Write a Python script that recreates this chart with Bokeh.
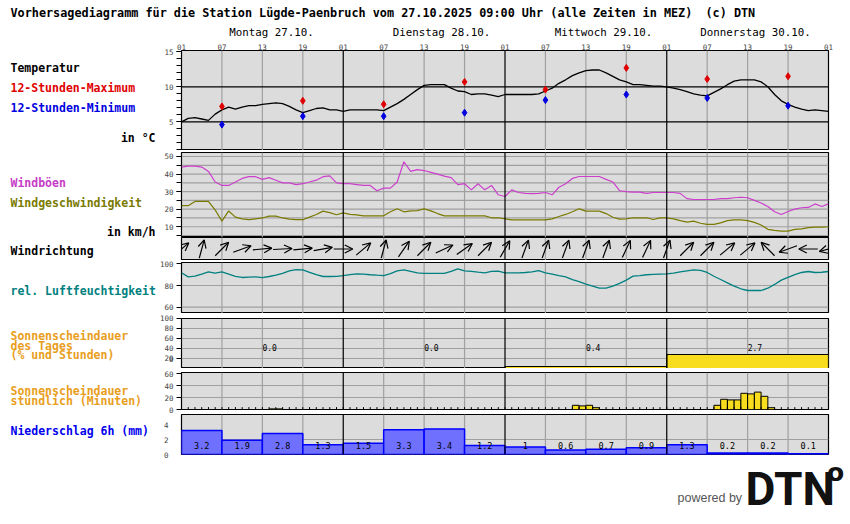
import math
from bokeh.plotting import figure
from bokeh.layouts import column, row
from bokeh.models import FixedTicker, Span, ColumnDataSource, Arrow, OpenHead, Range1d
from bokeh.embed import file_html
from bokeh.resources import INLINE
from bokeh.core.properties import value

# ---------------- data (hours counted from Mon 27.10. 01:00) ----------------
hours = list(range(97))
temperature = [5.0, 5.5, 5.6, 5.4, 5.2, 6.1, 6.7, 7.1, 6.8, 7.1, 7.3, 7.3, 7.5, 7.6, 7.7, 7.6, 7.2, 6.7, 6.3, 6.6, 6.9, 7.0, 6.7, 6.7,
               6.5, 6.7, 6.7, 6.7, 6.7, 6.7, 6.6, 7.1, 7.6, 8.2, 8.9, 9.6, 10.2, 10.3, 10.3, 10.3, 9.8, 9.4, 9.3, 8.9, 9.0, 9.0, 8.8, 8.6,
               8.9, 8.9, 8.9, 8.9, 8.9, 9.0, 9.4, 9.8, 10.5, 11.0, 11.6, 12.0, 12.3, 12.4, 12.4, 12.0, 11.5, 11.0, 10.7, 10.3, 10.3, 10.2, 10.1, 10.1,
               10.0, 9.8, 9.6, 9.3, 9.0, 8.8, 8.7, 9.2, 9.7, 10.3, 10.8, 11.0, 11.0, 11.0, 10.7, 10.0, 8.9, 8.0, 7.5, 7.1, 6.8, 6.6, 6.7, 6.6, 6.5]
extreme_hours = [6, 18, 30, 42, 54, 66, 78, 90]
temp_max = [7.2, 8.0, 7.5, 10.7, 9.6, 12.7, 11.1, 11.5]
temp_min = [4.6, 5.8, 5.8, 6.3, 8.1, 8.9, 8.4, 7.3]

gusts = [44, 44.5, 44.5, 44, 41.5, 35.5, 33.5, 33.5, 35.5, 37.5, 38.5, 38.5, 37, 38, 36.5, 35, 35, 34, 34.5, 35.5, 36.5, 38.5, 39, 35,
         34.5, 34.5, 34, 33.5, 33.5, 30.5, 32, 32, 35.5, 47, 41.5, 42.5, 42, 41, 40, 38.8, 38, 34, 34.5, 31, 34.5, 31, 33.5, 28.2,
         27.2, 31, 29.5, 29, 28.8, 29, 29.5, 28.2, 32.5, 34.5, 37.5, 38.6, 38.6, 38.6, 38.6, 37, 35.5, 30.5, 30, 29.7, 29.7, 29, 29.5, 29.5,
         29.5, 29.5, 29, 26, 25.5, 25.5, 25.5, 25.5, 26, 26, 26.5, 26.8, 26.5, 25, 23.5, 21.5, 18.5, 17, 18.7, 20, 20.8, 21, 23, 21.5, 23]
wind_speed = [22, 22, 24.4, 24.4, 24.4, 19.5, 13.2, 19, 15.5, 14.5, 14, 14.5, 15, 16, 16, 15, 14.3, 14, 14, 15.5, 17, 18.9, 18, 16.8,
              17.9, 17, 16.8, 16.2, 16.2, 16.2, 16.2, 18.5, 20.2, 18.5, 19, 19.2, 20.2, 19, 17.5, 16.2, 16.2, 16.2, 16.2, 16.2, 16.2, 16.2, 15.1, 15.1,
              14.5, 13.9, 13.9, 13.9, 13.9, 13.9, 13.9, 14.5, 15.8, 17, 18.5, 20.2, 18.9, 18.9, 18.9, 17.5, 15.4, 14.3, 14.5, 15.1, 15.1, 15.1, 14.1, 15,
              15, 14.5, 13.5, 12.6, 13.2, 12, 11.3, 11.3, 12.2, 13.5, 13.9, 13.9, 13.5, 12.5, 11, 8.5, 7.9, 7.5, 7.5, 8.5, 8.8, 9.5, 9.8, 9.8, 10]

dir_hours = list(range(0, 97, 3))
wind_dir = [230, 195, 225, 250, 265, 267, 265, 260, 270, 230, 195, 215, 225, 245, 235, 225, 210,
            200, 200, 200, 200, 200, 205, 205, 200, 225, 225, 230, 230, 135, 70, 90, 75]

humidity = [91.7, 88, 88.6, 90.5, 92.5, 91.5, 92.5, 90.5, 88.5, 87.4, 87.8, 88, 87.3, 88.3, 89.5, 91.2, 93.5, 94.7, 94.4, 92.2, 90, 88.3, 88.3, 88.5,
            89.2, 90, 90.8, 90.4, 89.9, 89.5, 89.2, 91, 93.5, 94.4, 93, 91.7, 91.1, 91.1, 91.1, 91.1, 93, 95.4, 93.5, 93, 92.3, 91.7, 93, 93.2,
            91.7, 91.7, 91.7, 92, 92.6, 93.8, 91.7, 90.5, 89.2, 88, 85.5, 83.5, 81.3, 79.5, 77.5, 77.5, 79.4, 82, 85, 88.6, 89.2, 89.9, 90.2, 90.5,
            90.7, 91.5, 92.5, 93.5, 94.4, 94, 92, 88.5, 85.5, 82.5, 79.5, 77, 75.4, 75.4, 75.4, 77.5, 81, 85, 87.5, 90, 92, 92.9, 92, 92.2, 92.9]

days = ["Montag 27.10.", "Dienstag 28.10.", "Mittwoch 29.10.", "Donnerstag 30.10."]
day_starts = [0, 24, 48, 72]
sun_day_hours = [0.0, 0.0, 0.4, 2.7]
sun_day_pct = [0, 0, 4, 28]

sun_hour_start = [13, 14, 58, 59, 60, 61, 79, 80, 81, 82, 83, 84, 85, 86, 87]
sun_minutes = [1, 1, 7, 6, 7, 3, 7, 17, 16, 16, 27, 26, 29, 22, 3]

precip_start = [0, 6, 12, 18, 24, 30, 36, 42, 48, 54, 60, 66, 72, 78, 84, 90]
precip = [3.2, 1.9, 2.8, 1.3, 1.5, 3.3, 3.4, 1.2, 1.0, 0.6, 0.7, 0.9, 1.3, 0.2, 0.2, 0.1]

hour_ticks = list(range(0, 97, 6))
hour_labels = ["01", "07", "13", "19"] * 4 + ["01"]

# ---------------- layout constants ----------------
TOTAL_W = 850
LEFT_W = 156              # width of the label column
PW = TOTAL_W - LEFT_W     # width of each panel figure
B_LEFT = 181 - LEFT_W     # axis room left of the frame
B_RIGHT = TOTAL_W - 828
PX_H = (PW - B_LEFT - B_RIGHT) / 96.0
MONO = "DejaVu Sans Mono"
GRID = "#a0a0a0"
RED = "#e00000"
BLUE = "#0000e0"
ORANGE = "#e89e1c"


def make_panel(top, frame_h, bottom, y0, y1, x_axis=None):
    p = figure(width=PW, height=top + frame_h + bottom, x_range=Range1d(0, 96), y_range=Range1d(y0, y1),
               toolbar_location=None, output_backend="svg", title=None, x_axis_location=x_axis,
               min_border_left=B_LEFT, min_border_right=B_RIGHT, min_border_top=top, min_border_bottom=bottom)
    p.background_fill_color = "#dcdcdc"
    p.border_fill_color = "white"
    p.outline_line_color = "black"
    p.outline_line_width = 1.2
    p.grid.visible = False
    for h in hour_ticks:
        if h % 24 != 0:
            p.add_layout(Span(location=h, dimension="height", line_color=GRID, line_width=1.2, level="underlay"))
    for h in [24, 48, 72]:
        p.add_layout(Span(location=h, dimension="height", line_color="black", line_width=1.2))
    ax = p.yaxis[0]
    ax.axis_line_color = None
    ax.major_tick_in = 0
    ax.major_tick_out = 5
    ax.minor_tick_in = 0
    ax.minor_tick_out = 5
    ax.major_tick_line_color = "black"
    ax.minor_tick_line_color = "black"
    ax.major_label_text_font = MONO
    ax.major_label_text_font_size = "7.5px"
    ax.major_label_standoff = 3
    return p


def hgrid(p, levels, color=GRID):
    for v in levels:
        p.add_layout(Span(location=v, dimension="width", line_color=color, line_width=1.2, level="underlay"))


def text_canvas(w, y_top, y_bottom):
    """A plain figure whose frame is the whole canvas, in page pixel units."""
    f = figure(width=w, height=y_bottom - y_top, x_range=Range1d(0, w), y_range=Range1d(y_bottom, y_top),
               toolbar_location=None, output_backend="svg", title=None,
               x_axis_location=None, y_axis_location=None,
               min_border_left=0, min_border_right=0, min_border_top=0, min_border_bottom=0)
    f.grid.visible = False
    f.outline_line_color = None
    f.background_fill_color = "white"
    f.border_fill_color = "white"
    return f


def put_text(f, x, y, t, color="black", size="11.5px", bold=True, align="left", font=MONO, baseline="middle"):
    f.text(x=[x], y=[y], text=[t], text_color=color, text_font=value(font), text_font_size=size,
           text_font_style="bold" if bold else "normal", text_align=align, text_baseline=baseline)


# ---------------- header ----------------
header = text_canvas(TOTAL_W, 0, 38)
put_text(header, 10, 12, "Vorhersagediagramm für die Station Lügde-Paenbruch vom 27.10.2025 09:00 Uhr (alle Zeiten in MEZ)", size="11.8px")
put_text(header, 705, 12, "(c) DTN", size="11.8px")
for name, cx in zip(days, [271, 441, 603, 755]):
    put_text(header, cx, 32, name, size="10.8px", bold=False, align="center")

# ---------------- left label column ----------------
left = text_canvas(LEFT_W, 38, 459)
put_text(left, 10, 67, "Temperatur")
put_text(left, 10, 87, "12-Stunden-Maximum", color=RED)
put_text(left, 10, 107, "12-Stunden-Minimum", color=BLUE)
put_text(left, 155, 137, "in °C", align="right")
put_text(left, 10, 182, "Windböen", color="#c63cc6")
put_text(left, 10, 202, "Windgeschwindigkeit", color="#7a7a00")
put_text(left, 155, 231, "in km/h", align="right")
put_text(left, 10, 250, "Windrichtung")
put_text(left, 10, 290, "rel. Luftfeuchtigkeit", color="#008080")
put_text(left, 10, 335, "Sonnenscheindauer", color=ORANGE)
put_text(left, 10, 345, "des Tages", color=ORANGE)
put_text(left, 10, 354, "(% und Stunden)", color=ORANGE)
put_text(left, 10, 390, "Sonnenscheindauer", color=ORANGE)
put_text(left, 10, 400, "stündlich (Minuten)", color=ORANGE)
put_text(left, 10, 430, "Niederschlag 6h (mm)", color="#0000ee")

# ---------------- temperature ----------------
pt = make_panel(12, 100, 0, 0.9, 0.9 + 100 / 7.0, x_axis="above")
pt.yaxis[0].ticker = FixedTicker(ticks=[5, 10, 15], minor_ticks=list(range(1, 16)))
xa = pt.xaxis[0]
xa.ticker = FixedTicker(ticks=hour_ticks, minor_ticks=[])
xa.major_label_overrides = {h: l for h, l in zip(hour_ticks, hour_labels)}
xa.axis_line_color = None
xa.major_tick_in = 0
xa.major_tick_out = 0
xa.minor_tick_in = 0
xa.minor_tick_out = 0
xa.major_label_text_font = MONO
xa.major_label_text_font_size = "7.5px"
xa.major_label_standoff = 1
hgrid(pt, [5, 10], "black")
pt.line(hours, temperature, line_color="black", line_width=1.3)
pt.scatter(extreme_hours, temp_max, marker="diamond", size=7, color=RED)
pt.scatter(extreme_hours, temp_min, marker="diamond", size=7, color=BLUE)

# ---------------- wind ----------------
pw = make_panel(2, 85, 0, 3.87, 3.87 + 85 / 1.756)
pw.yaxis[0].ticker = FixedTicker(ticks=[10, 20, 30, 40, 50], minor_ticks=list(range(5, 55, 5)))
hgrid(pw, list(range(5, 55, 5)))
pw.line(hours, gusts, line_color="#cc3fcc", line_width=1.2)
pw.line(hours, wind_speed, line_color="#7a7a00", line_width=1.2)

# ---------------- wind direction ----------------
pd_ = make_panel(0, 23, 0, 0, 23)
pd_.yaxis[0].visible = False
xs, ys, xe, ye = [], [], [], []
for h, d in zip(dir_hours, wind_dir):
    a = math.radians((270 - d) % 360)
    dx = 9.5 * math.cos(a) / PX_H
    dy = 9.5 * math.sin(a)
    xs.append(h - dx); xe.append(h + dx)
    ys.append(11.5 - dy); ye.append(11.5 + dy)
asrc = ColumnDataSource(dict(xs=xs, ys=ys, xe=xe, ye=ye))
pd_.add_layout(Arrow(source=asrc, x_start="xs", y_start="ys", x_end="xe", y_end="ye",
                     line_color="black", line_width=1.2,
                     end=OpenHead(size=8, line_color="black", line_width=1.2)))

# ---------------- humidity ----------------
ph = make_panel(2, 51, 0, 54.2, 54.2 + 51 / 1.085)
ph.yaxis[0].ticker = FixedTicker(ticks=[60, 80, 100], minor_ticks=[])
hgrid(ph, [60, 80])
ph.line(hours, humidity, line_color="#008080", line_width=1.3)

# ---------------- sunshine per day ----------------
ps = make_panel(5, 50, 0, 0, 100)
ps.yaxis[0].ticker = FixedTicker(ticks=[0, 20, 40, 60, 80, 100], minor_ticks=[])
ps.yaxis[0].major_label_overrides = {0: "0\n "}
ps.yaxis[0].major_label_text_line_height = 0.55
hgrid(ps, [20, 40, 60, 80])
sd = ColumnDataSource(dict(left=day_starts, right=[d + 24 for d in day_starts], top=sun_day_pct,
                           tx=[d + 12 for d in day_starts], txt=[f"{v:.1f}" for v in sun_day_hours]))
ps.quad(left="left", right="right", bottom=0, top="top", source=sd, fill_color="#f8dc1e", line_color="black", line_width=1.2)
ps.text(x="tx", y=42, text="txt", source=sd, text_font=value(MONO), text_font_size="8px",
        text_align="left", text_baseline="middle", text_color="black")

# ---------------- sunshine per hour ----------------
pu = make_panel(4, 37, 5, 0, 37 / 0.6)
pu.yaxis[0].ticker = FixedTicker(ticks=[0, 20, 40, 60], minor_ticks=[])
hgrid(pu, [20, 40])
pu.quad(left=sun_hour_start, right=[s + 1 for s in sun_hour_start], bottom=0, top=sun_minutes,
        fill_color="#f8dc1e", line_color="black", line_width=1)
pu.segment(x0=hours, y0=0, x1=hours, y1=4, line_color="black", line_width=1)

# ---------------- precipitation ----------------
pp = make_panel(0, 40, 5, 0, 40 / 7.5)
ax = pp.yaxis[0]
ax.ticker = FixedTicker(ticks=[0, 2, 4], minor_ticks=[])
ax.major_tick_out = 0
ax.major_label_standoff = 13
hgrid(pp, [2])
pr = ColumnDataSource(dict(left=precip_start, right=[s + 6 for s in precip_start], top=precip,
                           tx=[s + 3 for s in precip_start], txt=[f"{v:g}" for v in precip]))
pp.quad(left="left", right="right", bottom=0, top="top", source=pr, fill_color="#7070ff", line_color="#0000ff", line_width=1.5)
pp.text(x="tx", y=1.2, text="txt", source=pr, text_font=value(MONO), text_font_size="8.5px",
        text_align="center", text_baseline="middle", text_color="black")

# ---------------- footer with logo ----------------
footer = text_canvas(TOTAL_W, 459, 524)
put_text(footer, 677, 497, "powered by", color="#555555", size="12.5px", bold=False, font="Liberation Sans")
put_text(footer, 745, 488, "DTN", color="#111111", size="46px", bold=True,
         font="Liberation Sans Narrow, Roboto, sans-serif")
put_text(footer, 835, 472, "o", color="#111111", size="25px", bold=True, font="DejaVu Sans", align="center")

panels = column(pt, pw, pd_, ph, ps, pu, pp, spacing=0)
layout = column(header, row(left, panels, spacing=0), footer, spacing=0)
open("out.html", "w").write(file_html(layout, INLINE))
